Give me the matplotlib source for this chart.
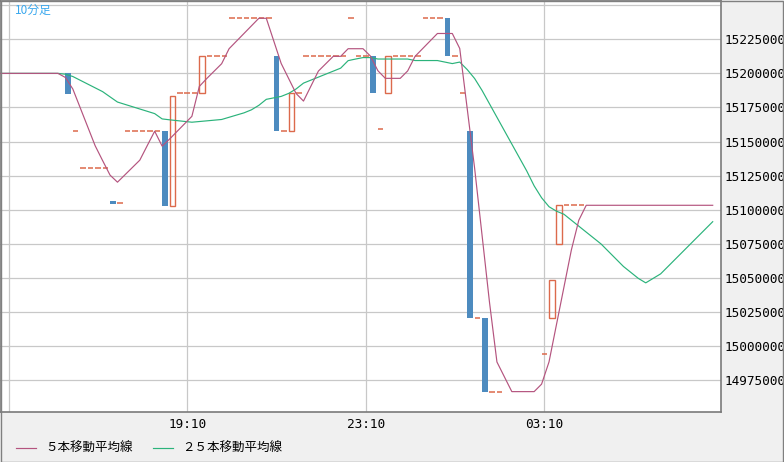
import matplotlib.pyplot as plt
from matplotlib.patches import Rectangle
from matplotlib.lines import Line2D

plt.rcParams['font.family'] = ['Noto Sans CJK JP', 'DejaVu Sans']

# 10 minute bars, index 0 = 15:10 (only bars with trades are listed)
bar_idx = [8, 9, 10, 11, 12, 13, 14, 15, 16, 17, 18, 19, 20, 21, 22, 23, 24, 25,
           26, 27, 28, 29, 30, 31, 32, 33, 34, 35, 36, 37, 38, 39, 40, 41, 42, 43,
           44, 45, 46, 47, 48, 49, 50, 51, 52, 53, 54, 55, 56, 57, 58, 59, 60, 61,
           62, 63, 64, 65, 66, 72, 73, 74, 75, 76, 77]
bar_open = [15200000, 15157600, 15130700, 15130700, 15130700, 15130700, 15106500, 15104800,
            15157600, 15157600, 15157600, 15157600, 15157600, 15157600, 15103000, 15185400,
            15185400, 15185400, 15185400, 15212500, 15212500, 15212500, 15240400, 15240400,
            15240400, 15240400, 15240400, 15240400, 15212500, 15157600, 15157600, 15185400,
            15212500, 15212500, 15212500, 15212500, 15212500, 15212500, 15240400, 15212500,
            15212500, 15212500, 15158900, 15185400, 15212500, 15212500, 15212500, 15212500,
            15240400, 15240400, 15240400, 15240400, 15212500, 15185400, 15157600, 15021000,
            15021000, 14966700, 14966700, 14994100, 15021000, 15075200, 15103300, 15103300,
            15103300]
bar_close = [15185000, 15157600, 15130700, 15130700, 15130700, 15130700, 15104300, 15104800,
             15157600, 15157600, 15157600, 15157600, 15157600, 15103000, 15183400, 15185400,
             15185400, 15185400, 15212500, 15212500, 15212500, 15212500, 15240400, 15240400,
             15240400, 15240400, 15240400, 15240400, 15157600, 15157600, 15185400, 15185400,
             15212500, 15212500, 15212500, 15212500, 15212500, 15212500, 15240400, 15212500,
             15212500, 15185400, 15158900, 15212500, 15212500, 15212500, 15212500, 15212500,
             15240400, 15240400, 15240400, 15212500, 15212500, 15185400, 15021000, 15021000,
             14966700, 14966700, 14966700, 14994100, 15048300, 15103300, 15103300, 15103300,
             15103300]

# moving averages, index -1 .. 95
ma_idx = list(range(-1, 96))
ma5 = [15200000] * 9 + [
    15197000, 15188520, 15174660, 15160800, 15146940, 15136080, 15125420, 15120240,
    15125620, 15131000, 15136380, 15147040, 15157600, 15146680, 15151840, 15157400,
    15162960, 15168520, 15190420, 15196240, 15201660, 15207080, 15218080, 15223660,
    15229240, 15234820, 15240400, 15240400, 15223840, 15207280, 15196280, 15185280,
    15179700, 15190680, 15201660, 15207080, 15212500, 15212500, 15218080, 15218080,
    15218080, 15212660, 15201940, 15196360, 15196360, 15196360, 15201780, 15212500,
    15218080, 15223660, 15229240, 15229240, 15229240, 15218240, 15174360, 15130480,
    15081320, 15032160, 14988420, 14977560, 14966700, 14966700, 14966700, 14966700,
    14972180, 14988500, 15015820, 15043140, 15070460, 15092300] + [15103300] * 18
ma25 = [15200000] * 9 + [
    15199400, 15197700, 15194930, 15192160, 15189390, 15186620, 15182790, 15178980,
    15177280, 15175590, 15173890, 15172200, 15170500, 15166620, 15165960, 15165370,
    15164790, 15164200, 15164700, 15165200, 15165700, 15166200, 15167820, 15169440,
    15171050, 15173270, 15176580, 15180970, 15182040, 15183120, 15185310, 15188550,
    15192860, 15195060, 15197250, 15199450, 15201640, 15203840, 15209340, 15210500,
    15211580, 15211580, 15210520, 15210520, 15210520, 15210520, 15210520, 15209410,
    15209410, 15209410, 15209410, 15208290, 15207180, 15208290, 15202820, 15196250,
    15187500, 15177670, 15167840, 15158000, 15148170, 15138340, 15128510, 15117560,
    15108820, 15102260, 15098970, 15096750, 15092380, 15088010, 15083640, 15079280,
    15074910, 15069420, 15063940, 15058460, 15054090, 15049720, 15046440, 15049730,
    15053020, 15058480, 15063950, 15069410, 15074880, 15080340, 15085800, 15091270]

time_ticks = [0, 24, 48, 72]
time_labels = ['', '19:10', '23:10', '03:10']
price_ticks = list(range(14975000, 15250001, 25000))

c_down = '#4d8bbf'
c_up = '#dc6a4c'
c_ma5 = '#b4547f'
c_ma25 = '#2bb37b'
c_grid = '#c8c8c8'

fig = plt.figure(figsize=(7.84, 4.62), dpi=100, facecolor='#f0f0f0')
ax = fig.add_axes([0.0, 0.1076, 0.9196, 0.8903])
ax.set_facecolor('white')

w = 0.74
for i, o, c in zip(bar_idx, bar_open, bar_close):
    if c < o:
        ax.bar(i, c - o, bottom=o, width=w, align='edge', color=c_down, lw=0, zorder=2)
    elif c > o:
        ax.bar(i, c - o, bottom=o, width=w, align='edge', fill=False,
               edgecolor=c_up, lw=1.0, zorder=2)
    else:
        ax.hlines(c, i, i + w, color=c_up, lw=1.1, zorder=2)

ax.plot(ma_idx, ma25, color=c_ma25, lw=0.85, zorder=3)
ax.plot(ma_idx, ma5, color=c_ma5, lw=0.85, zorder=3)

ax.set_xlim(-0.79, 96.11)
ax.set_ylim(14951550, 15253080)

ax.set_xticks([t + w / 2 for t in time_ticks])
ax.set_xticklabels(time_labels)
ax.set_yticks(price_ticks)
ax.set_yticklabels([str(p) if p < 15250000 else '' for p in price_ticks])
ax.yaxis.tick_right()
ax.tick_params(axis='both', length=0, labelsize=9.2)
ax.tick_params(axis='x', pad=4)
ax.tick_params(axis='y', pad=2.5)
for lab in ax.get_xticklabels() + ax.get_yticklabels():
    lab.set_fontfamily('DejaVu Sans Mono')

ax.grid(True, color=c_grid, lw=0.9, zorder=0)
ax.set_axisbelow(True)
for sp in ax.spines.values():
    sp.set_color('#7a7a7a')
    sp.set_linewidth(1.2)

fig.text(0.0191, 0.978, '10分足', color='#3aa8ee', fontsize=8.5, va='center')

# legend
ly = 1 - 448.3 / 462
fig.add_artist(Line2D([16 / 784, 36 / 784], [ly, ly], color=c_ma5, lw=0.85))
fig.text(45 / 784, ly, '５本移動平均線', fontsize=9, va='center')
fig.add_artist(Line2D([153 / 784, 173 / 784], [ly, ly], color=c_ma25, lw=0.85))
fig.text(182 / 784, ly, '２５本移動平均線', fontsize=9, va='center')

fig.add_artist(Rectangle((0.5 / 784, 0.5 / 462), 1 - 1.5 / 784, 1 - 1.5 / 462,
                         transform=fig.transFigure, fill=False,
                         edgecolor='#808080', lw=1))

plt.savefig('out.png', dpi=100, facecolor=fig.get_facecolor())
